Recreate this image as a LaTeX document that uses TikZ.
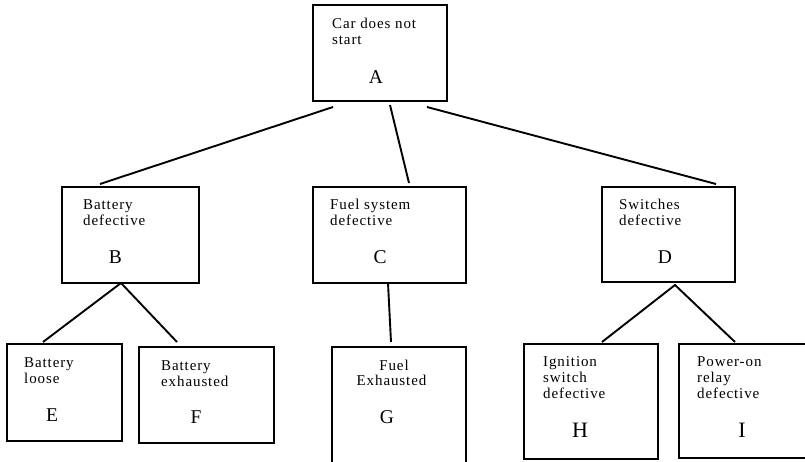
\documentclass[tikz,border=0pt]{standalone}
\usepackage{fontspec}
\setmainfont{Liberation Serif}
\newfontfamily\spacedserif[LetterSpace=6]{Liberation Serif}
\begin{document}
\begin{tikzpicture}[x=1pt,y=-1pt,
  box/.style={draw, line width=1.9pt, inner sep=0pt, outer sep=0pt, anchor=north west},
  lbl/.style={anchor=base west, inner sep=0pt, font=\spacedserif\fontsize{15}{16}\selectfont},
  clbl/.style={anchor=base, inner sep=0pt, font=\spacedserif\fontsize{15}{16}\selectfont},
  big/.style={anchor=base, inner sep=0pt, font=\fontsize{19.5}{20}\selectfont},
  bigger/.style={anchor=base, inner sep=0pt, font=\fontsize{22}{22}\selectfont},
  conn/.style={line width=1.9pt}]
\useasboundingbox (0,0) rectangle (805,461);
\fill[white] (0,0) rectangle (805,461);
\clip (0,0) rectangle (805,461);

% boxes
\node[box, minimum width=134pt, minimum height=96pt] (A) at (313,5) {};
\node[box, minimum width=137pt, minimum height=96pt] (B) at (62,187) {};
\node[box, minimum width=153pt, minimum height=96pt] (C) at (313,187) {};
\node[box, minimum width=133pt, minimum height=95pt] (D) at (602,187) {};
\node[box, minimum width=115pt, minimum height=97pt] (E) at (7,344) {};
\node[box, minimum width=135pt, minimum height=96pt] (F) at (139,347) {};
\node[box, minimum width=134pt, minimum height=125pt] (G) at (332,347) {};
\node[box, minimum width=134pt, minimum height=115pt] (H) at (524,344) {};
\node[box, minimum width=140pt, minimum height=114pt] (I) at (679,344) {};

% texts
\node[lbl] (A1) at (332,28) {Car does not};
\node[lbl] (A2) at (332,44) {start};
\node[big] (AL) at (376,83) {A};

\node[lbl] (B1) at (83,209) {Battery};
\node[lbl] (B2) at (83,225) {defective};
\node[big] (BL) at (115.5,263) {B};

\node[lbl] (C1) at (330,209) {Fuel system};
\node[lbl] (C2) at (330,225) {defective};
\node[big] (CL) at (380,263) {C};

\node[lbl] (D1) at (619,209) {Switches};
\node[lbl] (D2) at (619,225) {defective};
\node[big] (DL) at (665,263) {D};

\node[lbl] (E1) at (24,367) {Battery};
\node[lbl] (E2) at (24,383) {loose};
\node[big] (EL) at (52,421) {E};

\node[lbl] (F1) at (161,370) {Battery};
\node[lbl] (F2) at (161,386) {exhausted};
\node[big] (FL) at (196,423) {F};

\node[clbl] (G1) at (394,370) {Fuel};
\node[clbl] (G2) at (391.5,385) {Exhausted};
\node[big] (GL) at (387,423) {G};

\node[lbl] (H1) at (543,366) {Ignition};
\node[lbl] (H2) at (543,382) {switch};
\node[lbl] (H3) at (543,398) {defective};
\node[bigger] (HL) at (580,437) {H};

\node[lbl] (I1) at (697,366) {Power-on};
\node[lbl] (I2) at (697,382) {relay};
\node[lbl] (I3) at (697,398) {defective};
\node[bigger] (IL) at (742,437) {I};

% connectors
\draw[conn] ([xshift=20pt,yshift=-6pt]A.south west) -- ([xshift=38pt,yshift=3pt]B.north west);
\draw[conn] ([xshift=77pt,yshift=-4pt]A.south west) -- ([xshift=96pt,yshift=4pt]C.north west);
\draw[conn] ([xshift=114pt,yshift=-6pt]A.south west) -- ([xshift=114pt,yshift=3pt]D.north west);
\draw[conn] ([xshift=36pt,yshift=2pt]E.north west) -- ([xshift=59pt]B.south west) -- ([xshift=38pt,yshift=5pt]F.north west);
\draw[conn] ([xshift=75pt]C.south west) -- ([xshift=59pt,yshift=5pt]G.north west);
\draw[conn] ([xshift=78pt,yshift=2pt]H.north west) -- ([xshift=73pt,yshift=-3pt]D.south west) -- ([xshift=56pt,yshift=2pt]I.north west);
\end{tikzpicture}
\end{document}
